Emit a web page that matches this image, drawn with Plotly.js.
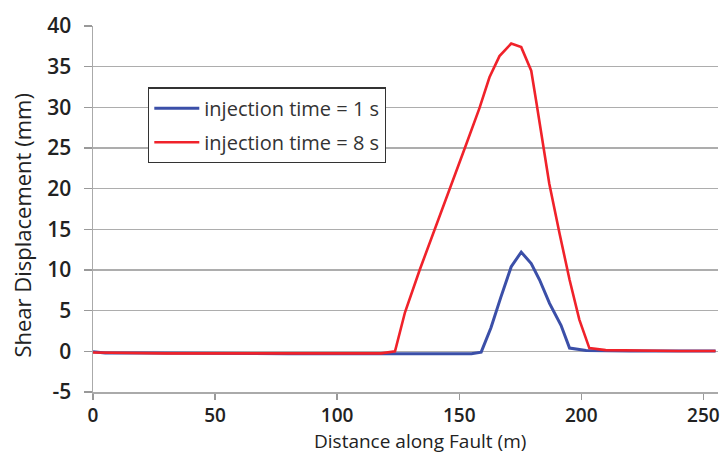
<!DOCTYPE html>
<html>
<head>
<meta charset="utf-8">
<script src="https://cdn.plot.ly/plotly-3.0.1.min.js"></script>
<style>html,body{margin:0;padding:0;background:#fff;}#chart{width:724px;height:456px;}</style>
</head>
<body>
<div id="chart"></div>
<script>
// Distance along fault (m) and shear displacement (mm)
var blueX = [0, 5, 20, 40, 60, 80, 100, 120, 140, 155, 159, 163, 167, 171.3, 175.4, 179.5, 182.9, 187, 191.7, 195.2, 202, 210, 220, 240, 255];
var blueY = [-0.05, -0.2, -0.2, -0.25, -0.3, -0.3, -0.3, -0.3, -0.3, -0.3, -0.1, 2.9, 6.6, 10.4, 12.2, 10.8, 8.8, 5.9, 3.2, 0.4, 0.1, 0.05, 0.05, 0.05, 0.05];
var redX = [0, 10, 20, 30, 40, 50, 60, 70, 80, 90, 100, 110, 118, 123.7, 127.8, 133.8, 139.9, 146.1, 152.2, 158.3, 162.4, 166.5, 171.3, 175.4, 179.5, 181.5, 186.9, 191.1, 195.2, 199.2, 203.3, 210, 220, 230, 240, 255];
var redY = [-0.15, -0.2, -0.2, -0.25, -0.25, -0.25, -0.3, -0.3, -0.3, -0.3, -0.3, -0.3, -0.25, 0, 4.8, 10, 14.9, 19.8, 24.9, 29.9, 33.7, 36.3, 37.85, 37.4, 34.5, 30.8, 20.6, 14.5, 8.8, 3.9, 0.4, 0.15, 0.1, 0.1, 0.05, 0.05];
var seriesNames = ["injection time = 1 s", "injection time = 8 s"];
var xTicks = [0, 50, 100, 150, 200, 250];
var yTicks = [-5, 0, 5, 10, 15, 20, 25, 30, 35, 40];
var xTitle = 'Distance along Fault (m)';
var yTitle = 'Shear Displacement (mm)';

var traces = [
  {x: blueX, y: blueY, type: 'scatter', mode: 'lines', name: seriesNames[0], legendgroup: 'a',
   line: {color: '#3b4fa8', width: 3}},
  {x: redX, y: redY, type: 'scatter', mode: 'lines', name: seriesNames[1], legendgroup: 'b',
   line: {color: '#f0222a', width: 2.6}}
];

var yTickFont = {family: 'Open Sans, sans-serif', size: 21, color: '#222', weight: 600};
var xTickFont = {family: 'Open Sans, sans-serif', size: 19, color: '#222', weight: 600};
var titleFont = {family: 'Open Sans, sans-serif', size: 22, color: '#222'};
var layout = {
  width: 724, height: 456,
  margin: {l: 93, r: 6, t: 26, b: 64},
  paper_bgcolor: '#fff', plot_bgcolor: '#fff',
  showlegend: true,
  legend: {
    x: 0.088, y: 0.832, xanchor: 'left', yanchor: 'top',
    bordercolor: '#333', borderwidth: 1.3, bgcolor: '#fff',
    font: {family: 'Open Sans, sans-serif', size: 20, color: '#333'},
    traceorder: 'grouped', tracegroupgap: 5, itemwidth: 45
  },
  xaxis: {
    range: [0, 256], tickvals: xTicks, ticktext: xTicks.map(String),
    ticks: 'outside', ticklen: 6, tickcolor: '#999', tickwidth: 1.3,
    showline: true, linecolor: '#aaa', linewidth: 1.5,
    showgrid: false, zeroline: false,
    tickfont: xTickFont, ticklabelstandoff: 0
  },
  yaxis: {
    range: [-5, 40], tickvals: yTicks, ticktext: yTicks.map(String),
    ticks: 'outside', ticklen: 8, tickcolor: '#999', tickwidth: 1.3,
    showline: true, linecolor: '#aaa', linewidth: 1.5,
    showgrid: true, gridcolor: '#adadad', gridwidth: 1.5, zeroline: false,
    tickfont: yTickFont, ticklabelstandoff: 8
  },
  annotations: [
    {text: xTitle, xref: 'paper', yref: 'paper', x: 0.523, y: -0.1726,
     xanchor: 'center', yanchor: 'bottom', showarrow: false,
     font: {family: 'Open Sans, sans-serif', size: 19, color: '#222'}, borderpad: 0},
    {text: yTitle, xref: 'paper', yref: 'paper', x: -0.114, y: 0.454, textangle: -90,
     xanchor: 'center', yanchor: 'middle', showarrow: false, font: titleFont, borderpad: 0}
  ]
};

Plotly.newPlot('chart', traces, layout, {displayModeBar: false, staticPlot: true});
</script>
</body>
</html>
